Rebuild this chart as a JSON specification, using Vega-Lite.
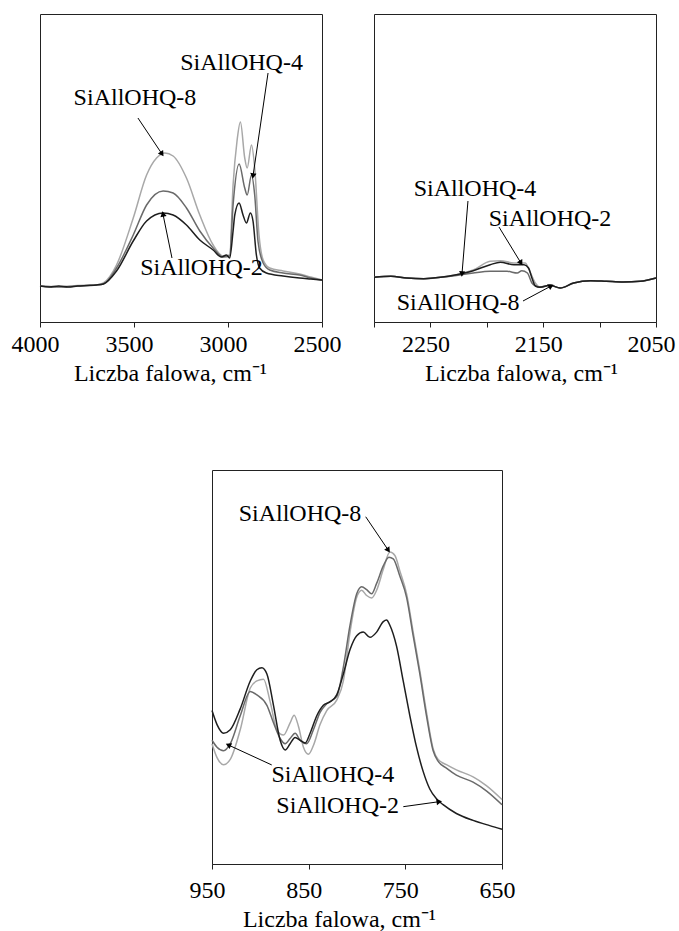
{
  "$schema": "https://vega.github.io/schema/vega-lite/v6.json",
  "padding": {"left": 10, "top": 13, "right": 0, "bottom": 0},
  "background": "white",
  "config": {
    "font": "Liberation Serif",
    "view": {"stroke": "#222222", "strokeWidth": 1},
    "line": {"interpolate": "monotone", "strokeWidth": 1.5},
    "axisX": {
      "domainColor": "#222222", "tickColor": "#222222", "tickSize": 5,
      "labelFont": "Liberation Serif", "labelFontSize": 24, "labelColor": "black", "labelPadding": 5, "labelOffset": -5,
      "labelFlush": false, "labelOverlap": false,
      "titleFont": "Liberation Serif", "titleFontSize": 24, "titleFontWeight": "normal", "titleColor": "black", "titlePadding": 5,
      "grid": false
    }
  },
  "datasets": {
    "s1": [
      {"s": "SiAllOHQ-8", "w": 4000, "a": 36}, {"s": "SiAllOHQ-8", "w": 3900, "a": 35.5}, {"s": "SiAllOHQ-8", "w": 3800, "a": 36.5}, {"s": "SiAllOHQ-8", "w": 3700, "a": 37}, {"s": "SiAllOHQ-8", "w": 3663, "a": 39}, {"s": "SiAllOHQ-8", "w": 3593, "a": 57}, {"s": "SiAllOHQ-8", "w": 3504, "a": 104}, {"s": "SiAllOHQ-8", "w": 3433, "a": 147}, {"s": "SiAllOHQ-8", "w": 3380, "a": 164}, {"s": "SiAllOHQ-8", "w": 3336, "a": 169}, {"s": "SiAllOHQ-8", "w": 3292, "a": 166}, {"s": "SiAllOHQ-8", "w": 3221, "a": 144}, {"s": "SiAllOHQ-8", "w": 3150, "a": 107}, {"s": "SiAllOHQ-8", "w": 3079, "a": 77}, {"s": "SiAllOHQ-8", "w": 3026, "a": 66}, {"s": "SiAllOHQ-8", "w": 2991, "a": 67}, {"s": "SiAllOHQ-8", "w": 2973, "a": 137}, {"s": "SiAllOHQ-8", "w": 2952, "a": 181}, {"s": "SiAllOHQ-8", "w": 2934, "a": 200}, {"s": "SiAllOHQ-8", "w": 2911, "a": 164}, {"s": "SiAllOHQ-8", "w": 2898, "a": 154}, {"s": "SiAllOHQ-8", "w": 2875, "a": 177}, {"s": "SiAllOHQ-8", "w": 2858, "a": 154}, {"s": "SiAllOHQ-8", "w": 2835, "a": 87}, {"s": "SiAllOHQ-8", "w": 2813, "a": 62}, {"s": "SiAllOHQ-8", "w": 2778, "a": 54}, {"s": "SiAllOHQ-8", "w": 2707, "a": 51}, {"s": "SiAllOHQ-8", "w": 2619, "a": 48}, {"s": "SiAllOHQ-8", "w": 2560, "a": 45}, {"s": "SiAllOHQ-8", "w": 2500, "a": 42},
      {"s": "SiAllOHQ-4", "w": 4000, "a": 36}, {"s": "SiAllOHQ-4", "w": 3900, "a": 35}, {"s": "SiAllOHQ-4", "w": 3800, "a": 36}, {"s": "SiAllOHQ-4", "w": 3700, "a": 37}, {"s": "SiAllOHQ-4", "w": 3663, "a": 38}, {"s": "SiAllOHQ-4", "w": 3593, "a": 54}, {"s": "SiAllOHQ-4", "w": 3504, "a": 87}, {"s": "SiAllOHQ-4", "w": 3433, "a": 117}, {"s": "SiAllOHQ-4", "w": 3345, "a": 131}, {"s": "SiAllOHQ-4", "w": 3292, "a": 129}, {"s": "SiAllOHQ-4", "w": 3221, "a": 114}, {"s": "SiAllOHQ-4", "w": 3150, "a": 91}, {"s": "SiAllOHQ-4", "w": 3079, "a": 74}, {"s": "SiAllOHQ-4", "w": 3026, "a": 65}, {"s": "SiAllOHQ-4", "w": 2991, "a": 66}, {"s": "SiAllOHQ-4", "w": 2973, "a": 117}, {"s": "SiAllOHQ-4", "w": 2941, "a": 158}, {"s": "SiAllOHQ-4", "w": 2911, "a": 134}, {"s": "SiAllOHQ-4", "w": 2898, "a": 127}, {"s": "SiAllOHQ-4", "w": 2875, "a": 147}, {"s": "SiAllOHQ-4", "w": 2858, "a": 127}, {"s": "SiAllOHQ-4", "w": 2840, "a": 80}, {"s": "SiAllOHQ-4", "w": 2813, "a": 59}, {"s": "SiAllOHQ-4", "w": 2778, "a": 52}, {"s": "SiAllOHQ-4", "w": 2707, "a": 49}, {"s": "SiAllOHQ-4", "w": 2619, "a": 47}, {"s": "SiAllOHQ-4", "w": 2560, "a": 44}, {"s": "SiAllOHQ-4", "w": 2500, "a": 42},
      {"s": "SiAllOHQ-2", "w": 4000, "a": 36}, {"s": "SiAllOHQ-2", "w": 3950, "a": 35}, {"s": "SiAllOHQ-2", "w": 3900, "a": 36}, {"s": "SiAllOHQ-2", "w": 3850, "a": 35}, {"s": "SiAllOHQ-2", "w": 3800, "a": 36}, {"s": "SiAllOHQ-2", "w": 3750, "a": 36.5}, {"s": "SiAllOHQ-2", "w": 3700, "a": 37}, {"s": "SiAllOHQ-2", "w": 3663, "a": 38}, {"s": "SiAllOHQ-2", "w": 3593, "a": 51}, {"s": "SiAllOHQ-2", "w": 3504, "a": 81}, {"s": "SiAllOHQ-2", "w": 3433, "a": 101}, {"s": "SiAllOHQ-2", "w": 3345, "a": 109}, {"s": "SiAllOHQ-2", "w": 3292, "a": 107}, {"s": "SiAllOHQ-2", "w": 3221, "a": 97}, {"s": "SiAllOHQ-2", "w": 3150, "a": 82}, {"s": "SiAllOHQ-2", "w": 3079, "a": 72}, {"s": "SiAllOHQ-2", "w": 3035, "a": 65}, {"s": "SiAllOHQ-2", "w": 3008, "a": 67}, {"s": "SiAllOHQ-2", "w": 2991, "a": 64}, {"s": "SiAllOHQ-2", "w": 2973, "a": 91}, {"s": "SiAllOHQ-2", "w": 2964, "a": 107}, {"s": "SiAllOHQ-2", "w": 2941, "a": 119}, {"s": "SiAllOHQ-2", "w": 2920, "a": 107}, {"s": "SiAllOHQ-2", "w": 2902, "a": 99}, {"s": "SiAllOHQ-2", "w": 2881, "a": 109}, {"s": "SiAllOHQ-2", "w": 2867, "a": 101}, {"s": "SiAllOHQ-2", "w": 2849, "a": 67}, {"s": "SiAllOHQ-2", "w": 2832, "a": 54}, {"s": "SiAllOHQ-2", "w": 2796, "a": 49}, {"s": "SiAllOHQ-2", "w": 2707, "a": 46}, {"s": "SiAllOHQ-2", "w": 2619, "a": 44}, {"s": "SiAllOHQ-2", "w": 2560, "a": 43}, {"s": "SiAllOHQ-2", "w": 2500, "a": 42}
    ],
    "t1": [
      {"w": 3495, "a": 224, "label": "SiAllOHQ-8"},
      {"w": 2928, "a": 259, "label": "SiAllOHQ-4"},
      {"w": 3141, "a": 54, "label": "SiAllOHQ-2"}
    ],
    "r1": [
      {"w": 3479, "a": 204, "w2": 3351, "a2": 168},
      {"w": 2787, "a": 249, "w2": 2867, "a2": 146},
      {"w": 3298, "a": 64, "w2": 3346, "a2": 108}
    ],
    "h1": [
      {"w": 3351, "a": 168, "ang": 146},
      {"w": 2867, "a": 146, "ang": 188},
      {"w": 3346, "a": 108, "ang": 348}
    ],
    "s2": [
      {"s": "SiAllOHQ-8", "w": 2300, "a": 44.7}, {"s": "SiAllOHQ-8", "w": 2285, "a": 45.7}, {"s": "SiAllOHQ-8", "w": 2271, "a": 44}, {"s": "SiAllOHQ-8", "w": 2256, "a": 43.3}, {"s": "SiAllOHQ-8", "w": 2241, "a": 44.7}, {"s": "SiAllOHQ-8", "w": 2227, "a": 47.3}, {"s": "SiAllOHQ-8", "w": 2212, "a": 52}, {"s": "SiAllOHQ-8", "w": 2197, "a": 60.7}, {"s": "SiAllOHQ-8", "w": 2188, "a": 61.3}, {"s": "SiAllOHQ-8", "w": 2176, "a": 59}, {"s": "SiAllOHQ-8", "w": 2166, "a": 59}, {"s": "SiAllOHQ-8", "w": 2162, "a": 51}, {"s": "SiAllOHQ-8", "w": 2157, "a": 39}, {"s": "SiAllOHQ-8", "w": 2153, "a": 35}, {"s": "SiAllOHQ-8", "w": 2144, "a": 36.7}, {"s": "SiAllOHQ-8", "w": 2135, "a": 34}, {"s": "SiAllOHQ-8", "w": 2123, "a": 39}, {"s": "SiAllOHQ-8", "w": 2108, "a": 41.3}, {"s": "SiAllOHQ-8", "w": 2094, "a": 40.7}, {"s": "SiAllOHQ-8", "w": 2079, "a": 40}, {"s": "SiAllOHQ-8", "w": 2064, "a": 40.7}, {"s": "SiAllOHQ-8", "w": 2050, "a": 44},
      {"s": "SiAllOHQ-4", "w": 2300, "a": 44.7}, {"s": "SiAllOHQ-4", "w": 2285, "a": 45.7}, {"s": "SiAllOHQ-4", "w": 2271, "a": 44}, {"s": "SiAllOHQ-4", "w": 2256, "a": 43.3}, {"s": "SiAllOHQ-4", "w": 2241, "a": 44.7}, {"s": "SiAllOHQ-4", "w": 2227, "a": 46.5}, {"s": "SiAllOHQ-4", "w": 2212, "a": 49}, {"s": "SiAllOHQ-4", "w": 2197, "a": 50.7}, {"s": "SiAllOHQ-4", "w": 2182, "a": 50.7}, {"s": "SiAllOHQ-4", "w": 2173, "a": 49}, {"s": "SiAllOHQ-4", "w": 2169, "a": 51.3}, {"s": "SiAllOHQ-4", "w": 2164, "a": 49}, {"s": "SiAllOHQ-4", "w": 2160, "a": 39}, {"s": "SiAllOHQ-4", "w": 2156, "a": 35.7}, {"s": "SiAllOHQ-4", "w": 2153, "a": 35}, {"s": "SiAllOHQ-4", "w": 2144, "a": 36.7}, {"s": "SiAllOHQ-4", "w": 2135, "a": 34}, {"s": "SiAllOHQ-4", "w": 2123, "a": 39}, {"s": "SiAllOHQ-4", "w": 2108, "a": 41.3}, {"s": "SiAllOHQ-4", "w": 2094, "a": 40.7}, {"s": "SiAllOHQ-4", "w": 2079, "a": 40}, {"s": "SiAllOHQ-4", "w": 2064, "a": 40.7}, {"s": "SiAllOHQ-4", "w": 2050, "a": 44},
      {"s": "SiAllOHQ-2", "w": 2300, "a": 44.7}, {"s": "SiAllOHQ-2", "w": 2285, "a": 45.7}, {"s": "SiAllOHQ-2", "w": 2271, "a": 44}, {"s": "SiAllOHQ-2", "w": 2256, "a": 43.3}, {"s": "SiAllOHQ-2", "w": 2241, "a": 44.7}, {"s": "SiAllOHQ-2", "w": 2227, "a": 47.3}, {"s": "SiAllOHQ-2", "w": 2212, "a": 51.3}, {"s": "SiAllOHQ-2", "w": 2197, "a": 57.3}, {"s": "SiAllOHQ-2", "w": 2188, "a": 59.7}, {"s": "SiAllOHQ-2", "w": 2176, "a": 57.3}, {"s": "SiAllOHQ-2", "w": 2167, "a": 57.3}, {"s": "SiAllOHQ-2", "w": 2163, "a": 54}, {"s": "SiAllOHQ-2", "w": 2160, "a": 44}, {"s": "SiAllOHQ-2", "w": 2157, "a": 36}, {"s": "SiAllOHQ-2", "w": 2153, "a": 34.7}, {"s": "SiAllOHQ-2", "w": 2144, "a": 36.7}, {"s": "SiAllOHQ-2", "w": 2135, "a": 34}, {"s": "SiAllOHQ-2", "w": 2123, "a": 39}, {"s": "SiAllOHQ-2", "w": 2108, "a": 41.3}, {"s": "SiAllOHQ-2", "w": 2094, "a": 40.7}, {"s": "SiAllOHQ-2", "w": 2079, "a": 40}, {"s": "SiAllOHQ-2", "w": 2064, "a": 40.7}, {"s": "SiAllOHQ-2", "w": 2050, "a": 44}
    ],
    "t2": [
      {"w": 2210.5, "a": 133, "label": "SiAllOHQ-4"},
      {"w": 2144, "a": 103, "label": "SiAllOHQ-2"},
      {"w": 2225.5, "a": 19, "label": "SiAllOHQ-8"}
    ],
    "r2": [
      {"w": 2216.7, "a": 121, "w2": 2222, "a2": 48},
      {"w": 2189.2, "a": 95, "w2": 2169.7, "a2": 59},
      {"w": 2167.9, "a": 21, "w2": 2143, "a2": 36}
    ],
    "h2": [
      {"w": 2222, "a": 48, "ang": 185},
      {"w": 2169.7, "a": 59, "ang": 149},
      {"w": 2143, "a": 36, "ang": 62}
    ],
    "s3": [
      {"s": "SiAllOHQ-8", "w": 950, "a": 115}, {"s": "SiAllOHQ-8", "w": 944.8, "a": 101.7}, {"s": "SiAllOHQ-8", "w": 938, "a": 95}, {"s": "SiAllOHQ-8", "w": 931.1, "a": 100}, {"s": "SiAllOHQ-8", "w": 920.8, "a": 128.3}, {"s": "SiAllOHQ-8", "w": 910.4, "a": 168.3}, {"s": "SiAllOHQ-8", "w": 903.6, "a": 175}, {"s": "SiAllOHQ-8", "w": 896.7, "a": 176.7}, {"s": "SiAllOHQ-8", "w": 889.8, "a": 155}, {"s": "SiAllOHQ-8", "w": 882.9, "a": 128.3}, {"s": "SiAllOHQ-8", "w": 876, "a": 123.3}, {"s": "SiAllOHQ-8", "w": 869.2, "a": 135}, {"s": "SiAllOHQ-8", "w": 865, "a": 142.3}, {"s": "SiAllOHQ-8", "w": 860.6, "a": 131.7}, {"s": "SiAllOHQ-8", "w": 855.4, "a": 111.7}, {"s": "SiAllOHQ-8", "w": 850.2, "a": 105}, {"s": "SiAllOHQ-8", "w": 845.1, "a": 113.3}, {"s": "SiAllOHQ-8", "w": 838.2, "a": 133.3}, {"s": "SiAllOHQ-8", "w": 831.3, "a": 146.7}, {"s": "SiAllOHQ-8", "w": 821, "a": 156.7}, {"s": "SiAllOHQ-8", "w": 814.1, "a": 175}, {"s": "SiAllOHQ-8", "w": 807.2, "a": 221.7}, {"s": "SiAllOHQ-8", "w": 800.3, "a": 255}, {"s": "SiAllOHQ-8", "w": 795.2, "a": 261.7}, {"s": "SiAllOHQ-8", "w": 790, "a": 256.7}, {"s": "SiAllOHQ-8", "w": 784.9, "a": 254.3}, {"s": "SiAllOHQ-8", "w": 779.7, "a": 261.7}, {"s": "SiAllOHQ-8", "w": 772.8, "a": 281.7}, {"s": "SiAllOHQ-8", "w": 766, "a": 298.3}, {"s": "SiAllOHQ-8", "w": 760.8, "a": 295}, {"s": "SiAllOHQ-8", "w": 755.6, "a": 280}, {"s": "SiAllOHQ-8", "w": 748.7, "a": 258.3}, {"s": "SiAllOHQ-8", "w": 741.9, "a": 221.7}, {"s": "SiAllOHQ-8", "w": 735, "a": 185}, {"s": "SiAllOHQ-8", "w": 728.1, "a": 145}, {"s": "SiAllOHQ-8", "w": 721.2, "a": 110}, {"s": "SiAllOHQ-8", "w": 716.1, "a": 100}, {"s": "SiAllOHQ-8", "w": 707.5, "a": 95}, {"s": "SiAllOHQ-8", "w": 697.2, "a": 90}, {"s": "SiAllOHQ-8", "w": 679.9, "a": 83.3}, {"s": "SiAllOHQ-8", "w": 666.2, "a": 75}, {"s": "SiAllOHQ-8", "w": 650, "a": 61.7},
      {"s": "SiAllOHQ-4", "w": 950, "a": 118.3}, {"s": "SiAllOHQ-4", "w": 944.8, "a": 111.7}, {"s": "SiAllOHQ-4", "w": 938, "a": 108.3}, {"s": "SiAllOHQ-4", "w": 931.1, "a": 115}, {"s": "SiAllOHQ-4", "w": 920.8, "a": 141.7}, {"s": "SiAllOHQ-4", "w": 910.4, "a": 165}, {"s": "SiAllOHQ-4", "w": 903.6, "a": 161.7}, {"s": "SiAllOHQ-4", "w": 893.2, "a": 151.7}, {"s": "SiAllOHQ-4", "w": 886.4, "a": 135}, {"s": "SiAllOHQ-4", "w": 879.5, "a": 120}, {"s": "SiAllOHQ-4", "w": 874.3, "a": 115}, {"s": "SiAllOHQ-4", "w": 869.2, "a": 120}, {"s": "SiAllOHQ-4", "w": 864, "a": 125}, {"s": "SiAllOHQ-4", "w": 858.8, "a": 118.3}, {"s": "SiAllOHQ-4", "w": 852, "a": 115}, {"s": "SiAllOHQ-4", "w": 845.1, "a": 128.3}, {"s": "SiAllOHQ-4", "w": 838.2, "a": 145}, {"s": "SiAllOHQ-4", "w": 831.3, "a": 153.3}, {"s": "SiAllOHQ-4", "w": 821, "a": 160}, {"s": "SiAllOHQ-4", "w": 814.1, "a": 188.3}, {"s": "SiAllOHQ-4", "w": 807.2, "a": 228.3}, {"s": "SiAllOHQ-4", "w": 800.3, "a": 258.3}, {"s": "SiAllOHQ-4", "w": 795.2, "a": 265}, {"s": "SiAllOHQ-4", "w": 790, "a": 262.3}, {"s": "SiAllOHQ-4", "w": 784.9, "a": 258.3}, {"s": "SiAllOHQ-4", "w": 779.7, "a": 268.3}, {"s": "SiAllOHQ-4", "w": 772.8, "a": 285}, {"s": "SiAllOHQ-4", "w": 767, "a": 293.3}, {"s": "SiAllOHQ-4", "w": 762.5, "a": 291.7}, {"s": "SiAllOHQ-4", "w": 755.6, "a": 275}, {"s": "SiAllOHQ-4", "w": 748.7, "a": 255}, {"s": "SiAllOHQ-4", "w": 741.9, "a": 218.3}, {"s": "SiAllOHQ-4", "w": 735, "a": 181.7}, {"s": "SiAllOHQ-4", "w": 728.1, "a": 141.7}, {"s": "SiAllOHQ-4", "w": 721.2, "a": 108.3}, {"s": "SiAllOHQ-4", "w": 716.1, "a": 98.3}, {"s": "SiAllOHQ-4", "w": 707.5, "a": 91.7}, {"s": "SiAllOHQ-4", "w": 697.2, "a": 85}, {"s": "SiAllOHQ-4", "w": 679.9, "a": 78.3}, {"s": "SiAllOHQ-4", "w": 666.2, "a": 70}, {"s": "SiAllOHQ-4", "w": 650, "a": 56.7},
      {"s": "SiAllOHQ-2", "w": 950, "a": 146.7}, {"s": "SiAllOHQ-2", "w": 944.8, "a": 133.3}, {"s": "SiAllOHQ-2", "w": 938, "a": 125}, {"s": "SiAllOHQ-2", "w": 931.1, "a": 128.3}, {"s": "SiAllOHQ-2", "w": 920.8, "a": 148.3}, {"s": "SiAllOHQ-2", "w": 910.4, "a": 175}, {"s": "SiAllOHQ-2", "w": 903.6, "a": 185.7}, {"s": "SiAllOHQ-2", "w": 898.4, "a": 187.7}, {"s": "SiAllOHQ-2", "w": 893.2, "a": 181.7}, {"s": "SiAllOHQ-2", "w": 886.4, "a": 151.7}, {"s": "SiAllOHQ-2", "w": 879.5, "a": 118.3}, {"s": "SiAllOHQ-2", "w": 874.3, "a": 109}, {"s": "SiAllOHQ-2", "w": 869.2, "a": 115}, {"s": "SiAllOHQ-2", "w": 864, "a": 121}, {"s": "SiAllOHQ-2", "w": 858.8, "a": 118.3}, {"s": "SiAllOHQ-2", "w": 853.7, "a": 115.7}, {"s": "SiAllOHQ-2", "w": 848.5, "a": 125}, {"s": "SiAllOHQ-2", "w": 841.6, "a": 141.7}, {"s": "SiAllOHQ-2", "w": 834.8, "a": 151.7}, {"s": "SiAllOHQ-2", "w": 827.9, "a": 155}, {"s": "SiAllOHQ-2", "w": 821, "a": 161.7}, {"s": "SiAllOHQ-2", "w": 814.1, "a": 181.7}, {"s": "SiAllOHQ-2", "w": 807.2, "a": 205}, {"s": "SiAllOHQ-2", "w": 800.3, "a": 218.3}, {"s": "SiAllOHQ-2", "w": 793.5, "a": 221.7}, {"s": "SiAllOHQ-2", "w": 786.6, "a": 216.7}, {"s": "SiAllOHQ-2", "w": 779.7, "a": 221.7}, {"s": "SiAllOHQ-2", "w": 772.8, "a": 231.7}, {"s": "SiAllOHQ-2", "w": 769.4, "a": 233.3}, {"s": "SiAllOHQ-2", "w": 766, "a": 228.3}, {"s": "SiAllOHQ-2", "w": 759.1, "a": 208.3}, {"s": "SiAllOHQ-2", "w": 752.2, "a": 175}, {"s": "SiAllOHQ-2", "w": 745.3, "a": 141.7}, {"s": "SiAllOHQ-2", "w": 738.4, "a": 111.7}, {"s": "SiAllOHQ-2", "w": 731.5, "a": 88.3}, {"s": "SiAllOHQ-2", "w": 724.7, "a": 71.7}, {"s": "SiAllOHQ-2", "w": 717.8, "a": 62.3}, {"s": "SiAllOHQ-2", "w": 710.9, "a": 56.7}, {"s": "SiAllOHQ-2", "w": 697.2, "a": 48.3}, {"s": "SiAllOHQ-2", "w": 679.9, "a": 41.7}, {"s": "SiAllOHQ-2", "w": 662.7, "a": 36.7}, {"s": "SiAllOHQ-2", "w": 650, "a": 33.3}
    ],
    "t3": [
      {"w": 859, "a": 335, "label": "SiAllOHQ-8"},
      {"w": 825, "a": 85, "label": "SiAllOHQ-4"},
      {"w": 820, "a": 55, "label": "SiAllOHQ-2"}
    ],
    "r3": [
      {"w": 791, "a": 332, "w2": 767.6, "a2": 300},
      {"w": 888.2, "a": 94.7, "w2": 933.1, "a2": 113.8},
      {"w": 752.1, "a": 54.8, "w2": 714.9, "a2": 59.6}
    ],
    "h3": [
      {"w": 767.6, "a": 300, "ang": 146},
      {"w": 933.1, "a": 113.8, "ang": 295},
      {"w": 714.9, "a": 59.6, "ang": 82}
    ],
    "sp": [{"v": 0}]
  },
  "vconcat": [
    {
      "hconcat": [
        {
          "width": 282, "height": 308,
          "encoding": {
            "x": {"field": "w", "type": "quantitative", "scale": {"domain": [2500, 4000], "reverse": true, "nice": false, "zero": false}, "axis": {"values": [4000, 3500, 3000, 2500], "format": "d", "title": "Liczba falowa, cm⁻¹", "titleX": 130}},
            "y": {"field": "a", "type": "quantitative", "scale": {"domain": [0, 308], "nice": false}, "axis": null}
          },
          "layer": [
            {"data": {"name": "s1"}, "mark": {"type": "line"}, "encoding": {"color": {"field": "s", "type": "nominal", "scale": {"domain": ["SiAllOHQ-2", "SiAllOHQ-4", "SiAllOHQ-8"], "range": ["#1e1e1e", "#6a6a6a", "#a8a8a8"]}, "legend": null}}},
            {"data": {"name": "r1"}, "mark": {"type": "rule", "color": "black", "strokeWidth": 1}, "encoding": {"x2": {"field": "w2"}, "y2": {"field": "a2"}}},
            {"data": {"name": "h1"}, "mark": {"type": "point", "shape": "triangle-up", "filled": true, "color": "black", "opacity": 1, "size": 40}, "encoding": {"angle": {"field": "ang", "type": "quantitative", "scale": null}}},
            {"data": {"name": "t1"}, "mark": {"type": "text", "font": "Liberation Serif", "fontSize": 24, "color": "black", "align": "center", "baseline": "middle"}, "encoding": {"text": {"field": "label"}}}
          ]
        },
        {
          "width": 282, "height": 308,
          "encoding": {
            "x": {"field": "w", "type": "quantitative", "scale": {"domain": [2050, 2300], "reverse": true, "nice": false, "zero": false}, "axis": {"values": [2300, 2250, 2200, 2150, 2100, 2050], "format": "d", "labelExpr": "datum.value % 100 == 50 ? datum.label : ''", "title": "Liczba falowa, cm⁻¹", "titleX": 147}},
            "y": {"field": "a", "type": "quantitative", "scale": {"domain": [0, 308], "nice": false}, "axis": null}
          },
          "layer": [
            {"data": {"name": "s2"}, "mark": {"type": "line"}, "encoding": {"color": {"field": "s", "type": "nominal", "scale": {"domain": ["SiAllOHQ-2", "SiAllOHQ-4", "SiAllOHQ-8"], "range": ["#1e1e1e", "#6a6a6a", "#a8a8a8"]}, "legend": null}}},
            {"data": {"name": "r2"}, "mark": {"type": "rule", "color": "black", "strokeWidth": 1}, "encoding": {"x2": {"field": "w2"}, "y2": {"field": "a2"}}},
            {"data": {"name": "h2"}, "mark": {"type": "point", "shape": "triangle-up", "filled": true, "color": "black", "opacity": 1, "size": 40}, "encoding": {"angle": {"field": "ang", "type": "quantitative", "scale": null}}},
            {"data": {"name": "t2"}, "mark": {"type": "text", "font": "Liberation Serif", "fontSize": 24, "color": "black", "align": "center", "baseline": "middle"}, "encoding": {"text": {"field": "label"}}}
          ]
        }
      ],
      "spacing": 52,
      "bounds": "flush"
    },
    {
      "hconcat": [
        {
          "width": 120, "height": 10,
          "data": {"name": "sp"},
          "mark": {"type": "point", "opacity": 0},
          "encoding": {},
          "view": {"stroke": null}
        },
        {
          "width": 290, "height": 394,
          "encoding": {
            "x": {"field": "w", "type": "quantitative", "scale": {"domain": [650, 950], "reverse": true, "nice": false, "zero": false}, "axis": {"values": [950, 850, 750, 650], "format": "d", "title": "Liczba falowa, cm⁻¹", "labelPadding": 9, "titlePadding": 5, "titleX": 127}},
            "y": {"field": "a", "type": "quantitative", "scale": {"domain": [0, 376.7], "nice": false}, "axis": null}
          },
          "layer": [
            {"data": {"name": "s3"}, "mark": {"type": "line"}, "encoding": {"color": {"field": "s", "type": "nominal", "scale": {"domain": ["SiAllOHQ-2", "SiAllOHQ-4", "SiAllOHQ-8"], "range": ["#1e1e1e", "#6a6a6a", "#a8a8a8"]}, "legend": null}}},
            {"data": {"name": "r3"}, "mark": {"type": "rule", "color": "black", "strokeWidth": 1}, "encoding": {"x2": {"field": "w2"}, "y2": {"field": "a2"}}},
            {"data": {"name": "h3"}, "mark": {"type": "point", "shape": "triangle-up", "filled": true, "color": "black", "opacity": 1, "size": 40}, "encoding": {"angle": {"field": "ang", "type": "quantitative", "scale": null}}},
            {"data": {"name": "t3"}, "mark": {"type": "text", "font": "Liberation Serif", "fontSize": 24, "color": "black", "align": "center", "baseline": "middle"}, "encoding": {"text": {"field": "label"}}}
          ]
        }
      ],
      "spacing": 52,
      "bounds": "flush"
    }
  ],
  "spacing": 83,
  "bounds": "full"
}
